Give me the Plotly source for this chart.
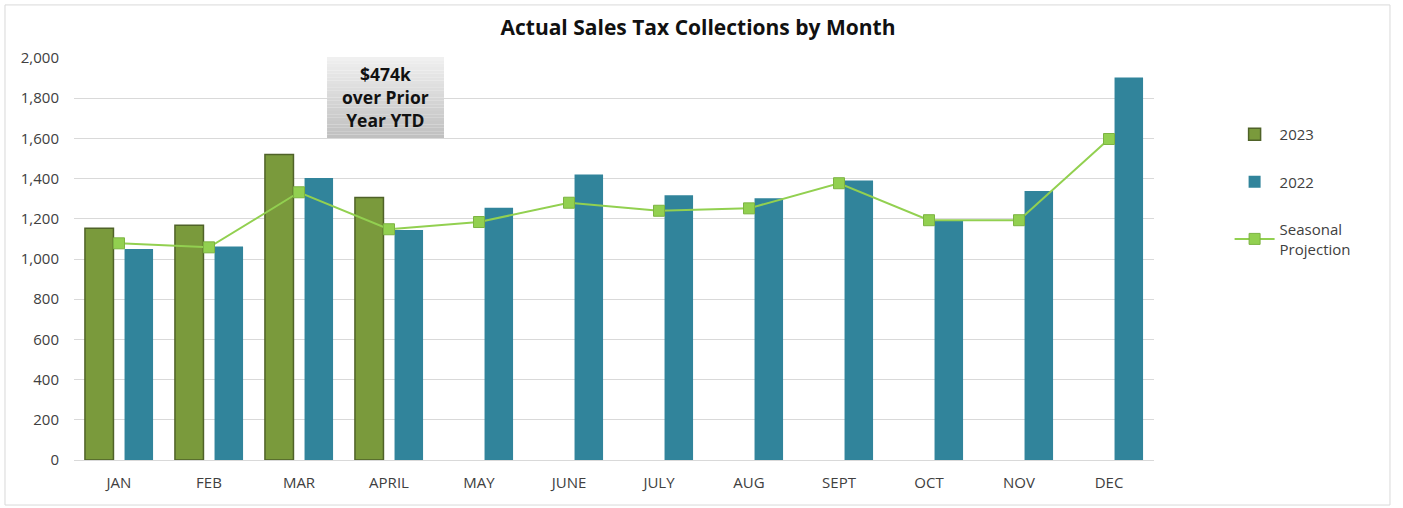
import plotly.graph_objects as go

months = ["JAN", "FEB", "MAR", "APRIL", "MAY", "JUNE", "JULY", "AUG", "SEPT", "OCT", "NOV", "DEC"]
sales_2023 = [1153, 1168, 1520, 1306, None, None, None, None, None, None, None, None]
sales_2022 = [1050, 1062, 1403, 1144, 1255, 1421, 1317, 1302, 1391, 1194, 1338, 1903]
seasonal = [1078, 1058, 1332, 1148, 1184, 1280, 1240, 1252, 1377, 1193, 1193, 1597]
y_ticks = [0, 200, 400, 600, 800, 1000, 1200, 1400, 1600, 1800, 2000]

FONT = "Open Sans"
TXT = "#404040"

fig = go.Figure()
fig.add_trace(go.Bar(
    x=months, y=sales_2023, name="2023", legendgroup="g0",
    marker=dict(color="#7a9a3c", line=dict(color="#4f6228", width=1.5)),
))
fig.add_trace(go.Bar(
    x=months, y=sales_2022, name="2022", legendgroup="g1",
    marker=dict(color="#31849b", line=dict(width=0)),
))
fig.add_trace(go.Scatter(
    x=months, y=seasonal, name="Seasonal<br>Projection", mode="lines+markers", legendgroup="g2",
    line=dict(color="#92d050", width=2),
    marker=dict(symbol="square", size=11, color="#92d050", line=dict(color="#7cb342", width=1)),
))

shapes = [
    dict(type="rect", xref="paper", yref="paper", x0=-0.0639, x1=1.2185, y0=-0.112, y1=1.132,
         line=dict(color="#d9d9d9", width=1), fillcolor="rgba(0,0,0,0)", layer="below"),
]
# gradient box for annotation
bx0, bx1, by0, by1 = 0.2343, 0.3426, 0.801, 1.0025
n = 24
c_top = (240, 240, 240)
c_bot = (192, 192, 192)
for i in range(n):
    t = i / (n - 1)
    c = tuple(int(c_top[k] + (c_bot[k] - c_top[k]) * t) for k in range(3))
    ya = by1 - (by1 - by0) * i / n
    yb = by1 - (by1 - by0) * (i + 1) / n
    shapes.append(dict(type="rect", xref="paper", yref="paper", x0=bx0, x1=bx1, y0=yb, y1=ya,
                       line=dict(width=0), fillcolor="rgb(%d,%d,%d)" % c, layer="above"))

fig.update_layout(
    width=1403, height=508,
    margin=dict(l=74, r=249, t=58, b=48, autoexpand=False),
    paper_bgcolor="white", plot_bgcolor="white",
    font=dict(family=FONT, size=15, color=TXT),
    title=dict(text="<b>Actual Sales Tax Collections by Month</b>", x=0.4975, xanchor="center",
               y=0.945, yanchor="middle", font=dict(family=FONT, size=21, color="#111111")),
    barmode="group", bargap=0.12, bargroupgap=0.28,
    xaxis=dict(range=[-0.5, len(months) - 0.5], showgrid=False, showline=True,
               linecolor="#d9d9d9", linewidth=1, automargin=False,
               ticks="", tickfont=dict(size=15, color=TXT), ticklabelstandoff=9),
    yaxis=dict(range=[0, 2000], tickvals=y_ticks, tickformat=",", showgrid=True, automargin=False,
               gridcolor="#d9d9d9", gridwidth=1, zeroline=False, showline=False,
               ticks="", tickfont=dict(size=15, color=TXT), ticklabelstandoff=14),
    legend=dict(x=1.07, y=0.851, xanchor="left", yanchor="top", tracegroupgap=25,
                font=dict(size=15, color=TXT), itemwidth=40, traceorder="grouped"),
    shapes=shapes,
    annotations=[dict(text="<b>$474k<br>over Prior<br>Year YTD</b>", xref="paper", yref="paper",
                      x=(bx0 + bx1) / 2, y=(by0 + by1) / 2, xanchor="center", yanchor="middle",
                      showarrow=False, font=dict(family=FONT, size=17.5, color="#111111"),
                      align="center")],
)

fig.write_html("out.html")
